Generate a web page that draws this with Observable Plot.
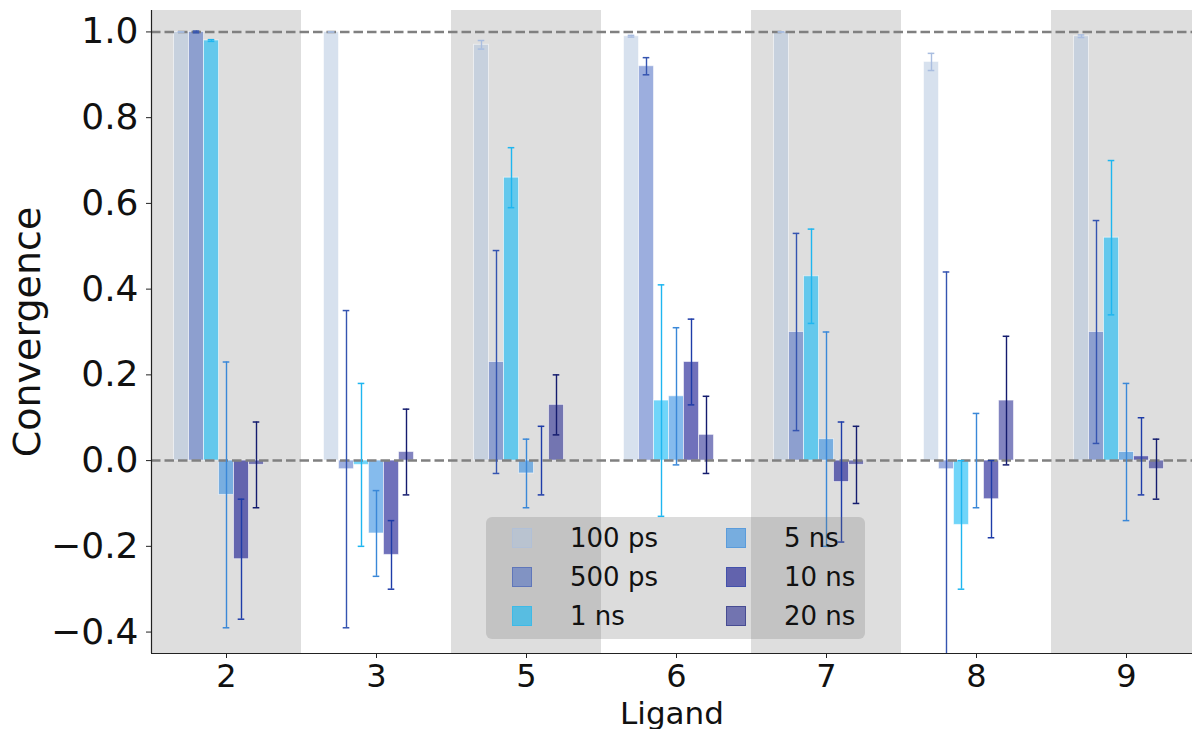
<!DOCTYPE html>
<html>
<head>
<meta charset="utf-8">
<script src="https://cdn.jsdelivr.net/npm/d3@7"></script>
<script src="https://cdn.jsdelivr.net/npm/@observablehq/plot@0.6"></script>
<style>
  html, body { margin: 0; padding: 0; background: white; overflow: hidden; }
  #wrap { position: relative; width: 1192px; height: 729px; font-family: "DejaVu Sans", sans-serif; }
  #legend { position: absolute; left: 486px; top: 517px; width: 379px; height: 122px;
            background: rgba(115,115,115,0.25); border-radius: 6px; }
  .sw { position: absolute; width: 20px; height: 20px; box-sizing: border-box; }
  .lbl { position: absolute; font-size: 26px; line-height: 26px; white-space: nowrap; color: #111; }
</style>
</head>
<body>
<div id="wrap"></div>
<script>
// ---- data ----
const ligands = ["2", "3", "5", "6", "7", "8", "9"];
const series = ["100 ps", "500 ps", "1 ns", "5 ns", "10 ns", "20 ns"];

const v100ps = [1.00, 1.00, 0.97, 0.99, 1.00, 0.93, 0.99];
const e100ps = [0.000, 0.000, 0.010, 0.002, 0.000, 0.020, 0.003];
const v500ps = [1.00, -0.02, 0.23, 0.92, 0.30, -0.02, 0.30];
const e500ps = [0.002, 0.37, 0.26, 0.02, 0.23, 0.46, 0.26];
const v1ns   = [0.98, -0.01, 0.66, 0.14, 0.43, -0.15, 0.52];
const e1ns   = [0.002, 0.19, 0.07, 0.27, 0.11, 0.15, 0.18];
const v5ns   = [-0.08, -0.17, -0.03, 0.15, 0.05, 0.00, 0.02];
const e5ns   = [0.31, 0.10, 0.08, 0.16, 0.25, 0.11, 0.16];
const v10ns  = [-0.23, -0.22, 0.00, 0.23, -0.05, -0.09, 0.01];
const e10ns  = [0.14, 0.08, 0.08, 0.10, 0.14, 0.09, 0.09];
const v20ns  = [-0.01, 0.02, 0.13, 0.06, -0.01, 0.14, -0.02];
const e20ns  = [0.10, 0.10, 0.07, 0.09, 0.09, 0.15, 0.07];

const values = [v100ps, v500ps, v1ns, v5ns, v10ns, v20ns];
const errors = [e100ps, e500ps, e1ns, e5ns, e10ns, e20ns];

const yTicks = [-0.4, -0.2, 0.0, 0.2, 0.4, 0.6, 0.8, 1.0];
const refLines = [0, 1];

// ---- styles ----
const fills    = ["#b0c4de", "#4b6cc2", "#10b9f5", "#348ee1", "#10138e", "#1c1f8c"];
const opac     = [0.5, 0.55, 0.6, 0.6, 0.6, 0.55];
const ecolors  = ["#a9bde0", "#3554b0", "#1eb6f0", "#3a88d8", "#1e3ca8", "#141c6e"];
const barW = 0.1;
const capHalf = 0.022;

const rows = [];
series.forEach((name, s) => {
  ligands.forEach((lig, i) => {
    rows.push({s, i, v: values[s][i], e: errors[s][i]});
  });
});
const center = d => d.i + (d.s - 3) * barW;
const shaded = ligands.map((_, i) => i).filter(i => i % 2 === 0);

const marks = [];
marks.push(Plot.rect(shaded, {x1: i => i - 0.5, x2: i => i + 0.5, fill: "#dedede"}));
series.forEach((name, s) => {
  const d = rows.filter(r => r.s === s);
  marks.push(Plot.rect(d, {
    x1: r => center(r) - barW / 2, x2: r => center(r) + barW / 2,
    y1: r => 0, y2: "v",
    fill: fills[s], fillOpacity: opac[s],
    stroke: "white", strokeOpacity: 0.55, strokeWidth: 1
  }));
});
marks.push(Plot.ruleY(refLines, {stroke: "#808080", strokeWidth: 2.5, strokeDasharray: "9.5,4"}));
series.forEach((name, s) => {
  const d = rows.filter(r => r.s === s);
  marks.push(Plot.ruleX(d, {x: center, y1: r => r.v - r.e, y2: r => r.v + r.e, stroke: ecolors[s], strokeWidth: 1.4, clip: true}));
  marks.push(Plot.ruleY(d, {y: r => r.v + r.e, x1: r => center(r) - capHalf, x2: r => center(r) + capHalf, stroke: ecolors[s], strokeWidth: 1.5, clip: true}));
  marks.push(Plot.ruleY(d, {y: r => r.v - r.e, x1: r => center(r) - capHalf, x2: r => center(r) + capHalf, stroke: ecolors[s], strokeWidth: 1.5, clip: true}));
});
// spines
marks.push(Plot.ruleX([-0.5], {stroke: "#222", strokeWidth: 1.2}));
marks.push(Plot.ruleY([-0.45], {stroke: "#222", strokeWidth: 1.2}));
// axes
marks.push(Plot.axisY({ticks: yTicks, tickFormat: d3.format(".1f"), fontSize: 36, tickSize: 5, tickPadding: 8, label: null, stroke: "#222"}));
marks.push(Plot.axisX({ticks: ligands.map((_, i) => i), tickFormat: i => ligands[i], fontSize: 32, tickSize: 5, tickPadding: 6, label: null, stroke: "#222"}));
marks.push(Plot.text(["Convergence"], {frameAnchor: "left", textAnchor: "middle", lineAnchor: "middle", rotate: -90, dx: -124, fontSize: 38, fill: "#111"}));
marks.push(Plot.text(["Ligand"], {frameAnchor: "bottom", dy: 70, fontSize: 31, fill: "#111"}));

const chart = Plot.plot({
  width: 1192,
  height: 729,
  marginLeft: 151,
  marginRight: 0,
  marginTop: 10,
  marginBottom: 76,
  x: {domain: [-0.5, 6.5], range: [151, 1201]},
  y: {domain: [-0.45, 1.05]},
  style: {fontFamily: "DejaVu Sans", background: "white", overflow: "hidden", color: "#111"},
  marks
});

const wrap = document.getElementById("wrap");
wrap.appendChild(chart);

// legend (HTML overlay inside the axes, as in the reference)
const legend = document.createElement("div");
legend.id = "legend";
series.forEach((name, s) => {
  const col = Math.floor(s / 3), row = s % 3;
  const sw = document.createElement("div");
  sw.className = "sw";
  sw.style.left = (26 + col * 214) + "px";
  sw.style.top = (11 + row * 39) + "px";
  sw.style.backgroundColor = d3.color(fills[s]).copy({opacity: opac[s]}).formatRgb();
  sw.style.border = "1px solid " + d3.color(ecolors[s]).copy({opacity: 0.45}).formatRgb();
  legend.appendChild(sw);
  const lb = document.createElement("div");
  lb.className = "lbl";
  lb.textContent = name;
  lb.style.left = (84 + col * 214) + "px";
  lb.style.top = (8 + row * 39) + "px";
  legend.appendChild(lb);
});
wrap.appendChild(legend);
</script>
</body>
</html>
